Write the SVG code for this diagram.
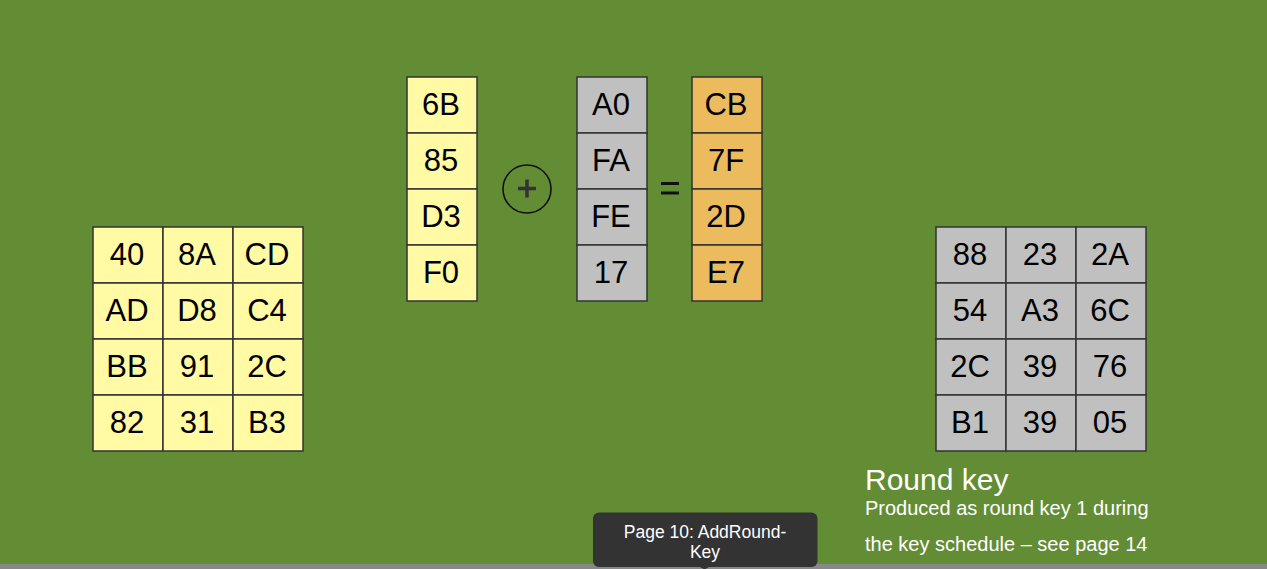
<svg xmlns="http://www.w3.org/2000/svg" width="1267" height="569" viewBox="0 0 1267 569">
<style>
.y{fill:#fffaa3;stroke:#333;stroke-width:1.5}
.g{fill:#c0c0c0;stroke:#333;stroke-width:1.5}
.o{fill:#ebbb5e;stroke:#333;stroke-width:1.5}
.t{font-family:"Liberation Sans",Arial,sans-serif;font-size:31px;fill:#000;text-anchor:middle}
.w{font-family:"Liberation Sans",Arial,sans-serif;fill:#fff}
</style>
<rect x="0" y="0" width="1267" height="569" fill="#638d35"/>
<g id="state">
<rect class="y" x="93" y="227" width="70" height="56"/><rect class="y" x="163" y="227" width="70" height="56"/><rect class="y" x="233" y="227" width="70" height="56"/>
<rect class="y" x="93" y="283" width="70" height="56"/><rect class="y" x="163" y="283" width="70" height="56"/><rect class="y" x="233" y="283" width="70" height="56"/>
<rect class="y" x="93" y="339" width="70" height="56"/><rect class="y" x="163" y="339" width="70" height="56"/><rect class="y" x="233" y="339" width="70" height="56"/>
<rect class="y" x="93" y="395" width="70" height="56"/><rect class="y" x="163" y="395" width="70" height="56"/><rect class="y" x="233" y="395" width="70" height="56"/>
<text class="t" x="127" y="264.5">40</text><text class="t" x="197" y="264.5">8A</text><text class="t" x="267" y="264.5">CD</text>
<text class="t" x="127" y="320.5">AD</text><text class="t" x="197" y="320.5">D8</text><text class="t" x="267" y="320.5">C4</text>
<text class="t" x="127" y="376.5">BB</text><text class="t" x="197" y="376.5">91</text><text class="t" x="267" y="376.5">2C</text>
<text class="t" x="127" y="432.5">82</text><text class="t" x="197" y="432.5">31</text><text class="t" x="267" y="432.5">B3</text>
</g>
<g id="column">
<rect class="y" x="407" y="77" width="70" height="56"/><rect class="y" x="407" y="133" width="70" height="56"/><rect class="y" x="407" y="189" width="70" height="56"/><rect class="y" x="407" y="245" width="70" height="56"/>
<text class="t" x="441" y="114.5">6B</text><text class="t" x="441" y="170.5">85</text><text class="t" x="441" y="226.5">D3</text><text class="t" x="441" y="282.5">F0</text>
</g>
<g id="xor">
<circle cx="527" cy="189" r="24" fill="none" stroke="#111" stroke-width="1.6"/>
<path d="M518 188.5H536M527 179.5V197.5" stroke="#333" stroke-width="3.5" fill="none"/>
</g>
<g id="keycolumn">
<rect class="g" x="577" y="77" width="70" height="56"/><rect class="g" x="577" y="133" width="70" height="56"/><rect class="g" x="577" y="189" width="70" height="56"/><rect class="g" x="577" y="245" width="70" height="56"/>
<text class="t" x="611" y="114.5">A0</text><text class="t" x="611" y="170.5">FA</text><text class="t" x="611" y="226.5">FE</text><text class="t" x="611" y="282.5">17</text>
</g>
<g id="equals">
<path d="M661 183.5H679M661 193H679" stroke="#111" stroke-width="3" fill="none"/>
</g>
<g id="result">
<rect class="o" x="692" y="77" width="70" height="56"/><rect class="o" x="692" y="133" width="70" height="56"/><rect class="o" x="692" y="189" width="70" height="56"/><rect class="o" x="692" y="245" width="70" height="56"/>
<text class="t" x="726" y="114.5">CB</text><text class="t" x="726" y="170.5">7F</text><text class="t" x="726" y="226.5">2D</text><text class="t" x="726" y="282.5">E7</text>
</g>
<g id="roundkey">
<rect class="g" x="936" y="227" width="70" height="56"/><rect class="g" x="1006" y="227" width="70" height="56"/><rect class="g" x="1076" y="227" width="70" height="56"/>
<rect class="g" x="936" y="283" width="70" height="56"/><rect class="g" x="1006" y="283" width="70" height="56"/><rect class="g" x="1076" y="283" width="70" height="56"/>
<rect class="g" x="936" y="339" width="70" height="56"/><rect class="g" x="1006" y="339" width="70" height="56"/><rect class="g" x="1076" y="339" width="70" height="56"/>
<rect class="g" x="936" y="395" width="70" height="56"/><rect class="g" x="1006" y="395" width="70" height="56"/><rect class="g" x="1076" y="395" width="70" height="56"/>
<text class="t" x="970" y="264.5">88</text><text class="t" x="1040" y="264.5">23</text><text class="t" x="1110" y="264.5">2A</text>
<text class="t" x="970" y="320.5">54</text><text class="t" x="1040" y="320.5">A3</text><text class="t" x="1110" y="320.5">6C</text>
<text class="t" x="970" y="376.5">2C</text><text class="t" x="1040" y="376.5">39</text><text class="t" x="1110" y="376.5">76</text>
<text class="t" x="970" y="432.5">B1</text><text class="t" x="1040" y="432.5">39</text><text class="t" x="1110" y="432.5">05</text>
</g>
<g id="caption">
<text class="w" x="865" y="490" font-size="30">Round key</text>
<text class="w" x="865" y="514.5" font-size="20">Produced as round key 1 during</text>
<text class="w" x="865" y="550.5" font-size="20">the key schedule – see page 14</text>
</g>
<g id="connectors"></g>
<rect x="0" y="564" width="1267" height="5" fill="#888"/>
<g id="tooltip">
<rect x="593" y="512.5" width="224.5" height="54.5" rx="6" fill="#333"/>
<path d="M700 567H709L704.5 569.5Z" fill="#333"/>
<text class="w" x="705" y="537.5" font-size="17.5" text-anchor="middle">Page 10: AddRound-</text>
<text class="w" x="705" y="557.5" font-size="17.5" text-anchor="middle">Key</text>
</g>
</svg>
